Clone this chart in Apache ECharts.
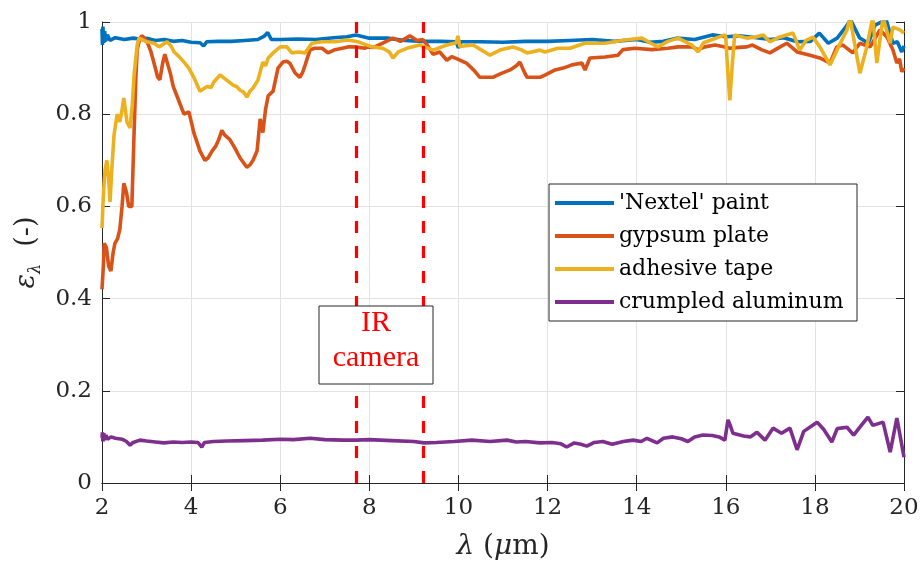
<!DOCTYPE html>
<html>
<head>
<meta charset="utf-8">
<script src="https://cdn.jsdelivr.net/npm/echarts@6/dist/echarts.min.js"></script>
<style>html,body{margin:0;padding:0;background:#fff;}#c{width:924px;height:569px;}</style>
</head>
<body>
<div id="c"></div>
<script>
var seriesNames = ["'Nextel' paint", "gypsum plate", "adhesive tape", "crumpled aluminum"];
var xTicks = [2, 4, 6, 8, 10, 12, 14, 16, 18, 20];
var yTicks = [0, 0.2, 0.4, 0.6, 0.8, 1];
var cameraBand = [7.7, 9.2];

var nextel = [[2.00,0.985],[2.01,0.95],[2.02,0.99],[2.04,0.955],[2.06,0.98],[2.08,0.958],[2.12,0.972],[2.18,0.96],[2.3,0.966],[2.5,0.962],[2.7,0.965],[2.9,0.962],[3.0,0.965],[3.2,0.96],[3.4,0.962],[3.6,0.958],[3.8,0.96],[4.0,0.956],[4.2,0.955],[4.28,0.948],[4.35,0.957],[4.6,0.958],[4.9,0.958],[5.2,0.96],[5.5,0.962],[5.65,0.97],[5.72,0.977],[5.8,0.962],[6.0,0.962],[6.4,0.963],[6.8,0.962],[7.2,0.966],[7.5,0.968],[7.7,0.972],[8.0,0.965],[8.4,0.965],[8.8,0.96],[9.2,0.958],[9.6,0.958],[9.95,0.957],[10.0,0.944],[10.05,0.957],[10.5,0.957],[11.0,0.956],[11.5,0.958],[12.0,0.958],[12.5,0.96],[13.0,0.962],[13.5,0.958],[14.0,0.962],[14.3,0.956],[14.6,0.958],[14.9,0.965],[15.3,0.962],[15.7,0.972],[16.0,0.968],[16.3,0.97],[16.6,0.967],[17.0,0.962],[17.3,0.966],[17.6,0.957],[17.9,0.958],[18.1,0.976],[18.3,0.954],[18.5,0.965],[18.7,0.99],[18.8,1.005],[19.0,0.966],[19.2,0.954],[19.35,0.993],[19.6,1.005],[19.75,0.954],[19.85,0.957],[19.95,0.935],[20.0,0.948]];

var gypsum = [[2.0,0.42],[2.03,0.47],[2.05,0.52],[2.1,0.51],[2.15,0.47],[2.2,0.46],[2.25,0.5],[2.29,0.52],[2.35,0.53],[2.4,0.55],[2.45,0.6],[2.49,0.65],[2.55,0.63],[2.6,0.6],[2.67,0.6],[2.72,0.76],[2.76,0.88],[2.79,0.94],[2.85,0.965],[2.9,0.97],[3.0,0.96],[3.1,0.935],[3.17,0.91],[3.25,0.88],[3.3,0.875],[3.36,0.91],[3.41,0.93],[3.47,0.91],[3.53,0.89],[3.6,0.86],[3.68,0.84],[3.76,0.82],[3.84,0.80],[3.95,0.805],[4.0,0.785],[4.06,0.76],[4.13,0.74],[4.2,0.72],[4.31,0.70],[4.38,0.705],[4.47,0.72],[4.55,0.73],[4.62,0.745],[4.69,0.765],[4.75,0.755],[4.87,0.745],[4.98,0.727],[5.1,0.705],[5.25,0.685],[5.32,0.69],[5.39,0.70],[5.48,0.72],[5.52,0.76],[5.55,0.79],[5.61,0.76],[5.67,0.81],[5.73,0.84],[5.84,0.85],[5.95,0.90],[6.06,0.913],[6.15,0.915],[6.22,0.91],[6.33,0.89],[6.44,0.88],[6.5,0.89],[6.56,0.907],[6.67,0.94],[6.78,0.943],[6.94,0.943],[7.07,0.933],[7.23,0.94],[7.39,0.943],[7.52,0.946],[7.68,0.946],[7.9,0.943],[7.95,0.946],[8.1,0.945],[8.3,0.954],[8.53,0.965],[8.7,0.958],[8.91,0.97],[9.07,0.96],[9.2,0.962],[9.3,0.95],[9.43,0.93],[9.58,0.935],[9.74,0.917],[9.85,0.925],[9.97,0.92],[10.19,0.91],[10.35,0.895],[10.48,0.88],[10.77,0.88],[10.95,0.888],[11.16,0.896],[11.3,0.905],[11.38,0.913],[11.46,0.895],[11.54,0.88],[11.83,0.88],[11.94,0.885],[12.17,0.896],[12.35,0.9],[12.55,0.907],[12.77,0.911],[12.84,0.896],[12.95,0.922],[13.29,0.924],[13.58,0.928],[13.69,0.94],[13.96,0.943],[14.34,0.94],[14.7,0.943],[14.93,0.946],[15.24,0.946],[15.38,0.94],[15.53,0.946],[15.76,0.95],[15.98,0.946],[16.09,0.943],[16.3,0.945],[16.47,0.946],[16.6,0.95],[16.8,0.94],[16.99,0.933],[17.2,0.945],[17.37,0.954],[17.6,0.935],[17.89,0.928],[18.11,0.922],[18.34,0.911],[18.49,0.946],[18.63,0.95],[18.85,0.933],[19.01,0.954],[19.24,0.946],[19.46,0.983],[19.62,0.967],[19.75,0.94],[19.84,0.911],[19.9,0.92],[19.95,0.892],[20.0,0.9]];

var tape = [[2.0,0.553],[2.02,0.6],[2.04,0.64],[2.07,0.68],[2.11,0.70],[2.15,0.66],[2.18,0.61],[2.22,0.68],[2.27,0.755],[2.34,0.80],[2.4,0.783],[2.45,0.81],[2.49,0.835],[2.56,0.783],[2.63,0.77],[2.68,0.82],[2.72,0.885],[2.79,0.95],[2.83,0.965],[2.9,0.962],[3.0,0.957],[3.17,0.954],[3.28,0.946],[3.46,0.957],[3.55,0.948],[3.62,0.935],[3.73,0.925],[3.84,0.913],[3.95,0.9],[4.06,0.88],[4.13,0.865],[4.2,0.85],[4.28,0.855],[4.36,0.86],[4.45,0.858],[4.51,0.87],[4.65,0.885],[4.8,0.874],[4.94,0.863],[5.02,0.86],[5.1,0.852],[5.18,0.848],[5.25,0.837],[5.32,0.85],[5.39,0.857],[5.5,0.874],[5.61,0.913],[5.67,0.905],[5.73,0.922],[5.84,0.933],[6.0,0.946],[6.15,0.946],[6.26,0.933],[6.4,0.935],[6.56,0.933],[6.71,0.954],[6.94,0.957],[7.23,0.957],[7.52,0.961],[7.75,0.957],[8.06,0.946],[8.3,0.943],[8.45,0.935],[8.53,0.922],[8.65,0.935],[8.84,0.943],[9.13,0.95],[9.43,0.939],[9.74,0.95],[9.95,0.955],[9.99,0.97],[10.03,0.947],[10.33,0.95],[10.5,0.94],[10.71,0.928],[10.93,0.939],[11.22,0.946],[11.4,0.94],[11.54,0.933],[11.83,0.939],[11.94,0.935],[12.23,0.943],[12.5,0.943],[12.84,0.954],[13.29,0.954],[13.74,0.961],[14.12,0.965],[14.3,0.955],[14.48,0.946],[14.7,0.958],[14.93,0.965],[15.24,0.95],[15.38,0.935],[15.5,0.955],[15.98,0.972],[16.0,0.967],[16.04,0.9],[16.09,0.83],[16.14,0.9],[16.2,0.972],[16.47,0.965],[16.65,0.967],[16.84,0.972],[16.99,0.957],[17.2,0.967],[17.51,0.976],[17.66,0.939],[17.8,0.96],[17.96,0.967],[18.11,0.946],[18.34,0.907],[18.5,0.94],[18.72,0.983],[18.79,1.01],[18.87,0.965],[19.01,0.889],[19.15,0.94],[19.3,1.01],[19.39,0.911],[19.53,1.01],[19.69,0.954],[19.75,0.989],[19.91,0.983],[20.0,0.976]];

var aluminum = [[2.0,0.098],[2.01,0.11],[2.02,0.09],[2.04,0.108],[2.06,0.093],[2.09,0.104],[2.12,0.095],[2.2,0.1],[2.3,0.097],[2.45,0.095],[2.55,0.09],[2.63,0.082],[2.7,0.088],[2.85,0.093],[3.0,0.091],[3.2,0.089],[3.39,0.087],[3.6,0.089],[3.8,0.088],[4.0,0.089],[4.15,0.088],[4.24,0.078],[4.3,0.088],[4.5,0.09],[4.8,0.091],[5.2,0.092],[5.6,0.093],[6.0,0.095],[6.3,0.094],[6.67,0.097],[7.0,0.094],[7.4,0.093],[7.7,0.093],[8.0,0.094],[8.5,0.092],[9.0,0.09],[9.23,0.087],[9.5,0.088],[9.9,0.09],[10.3,0.093],[10.71,0.09],[11.09,0.093],[11.3,0.089],[11.5,0.09],[11.83,0.087],[12.1,0.088],[12.3,0.085],[12.43,0.078],[12.6,0.087],[12.75,0.084],[12.88,0.08],[13.05,0.088],[13.24,0.09],[13.45,0.084],[13.7,0.09],[13.92,0.093],[14.1,0.09],[14.23,0.097],[14.46,0.087],[14.6,0.097],[14.81,0.1],[15.0,0.096],[15.15,0.09],[15.3,0.1],[15.49,0.104],[15.7,0.103],[15.85,0.1],[15.98,0.093],[16.05,0.137],[16.1,0.125],[16.16,0.108],[16.4,0.102],[16.55,0.1],[16.7,0.11],[16.88,0.093],[17.06,0.119],[17.25,0.108],[17.44,0.119],[17.6,0.072],[17.75,0.112],[18.05,0.132],[18.2,0.116],[18.38,0.089],[18.5,0.118],[18.72,0.121],[18.87,0.104],[19.01,0.121],[19.19,0.143],[19.3,0.125],[19.53,0.132],[19.69,0.067],[19.84,0.141],[20.0,0.056]];

var colors = ['#0072BD', '#D95319', '#EDB120', '#7E2F8E'];
var SERIF = 'DejaVu Serif';
var chart = echarts.init(document.getElementById('c'), null, {renderer: 'canvas'});

function mainX() {
  return {
    type: 'value', min: xTicks[0], max: xTicks[xTicks.length - 1], interval: 2,
    axisLine: {lineStyle: {color: '#262626', width: 1}},
    axisTick: {inside: true, length: 8, lineStyle: {color: '#262626'}},
    axisLabel: {fontFamily: SERIF, fontSize: 23, color: '#262626', margin: 14},
    splitLine: {show: true, lineStyle: {color: '#e3e3e3', width: 1}}
  };
}
function mainY() {
  return {
    type: 'value', min: yTicks[0], max: yTicks[yTicks.length - 1], interval: 0.2,
    axisLine: {show: true, lineStyle: {color: '#262626', width: 1}},
    axisTick: {show: true, inside: true, length: 8, lineStyle: {color: '#262626'}},
    axisLabel: {fontFamily: SERIF, fontSize: 23, color: '#262626', margin: 10},
    splitLine: {show: true, lineStyle: {color: '#e3e3e3', width: 1}}
  };
}
var x0 = mainX();
x0.name = '{l|λ} ({l|μ}m)';
x0.nameLocation = 'middle';
x0.nameGap = 50;
x0.nameTextStyle = {fontFamily: SERIF, fontSize: 28, color: '#262626', rich: {l: {fontFamily: SERIF, fontSize: 28, fontStyle: 'italic', color: '#262626'}}};
var x1 = mainX();
x1.position = 'top'; x1.axisLabel = {show: false}; x1.splitLine = {show: false};
var y0 = mainY();
y0.name = '{e|ε}{s|λ}  (-)';
y0.nameLocation = 'middle';
y0.nameGap = 58;
y0.nameTextStyle = {fontFamily: SERIF, fontSize: 27, color: '#262626', lineHeight: 34,
  rich: {e: {fontFamily: SERIF, fontSize: 27, fontStyle: 'italic', color: '#262626', lineHeight: 34},
         s: {fontFamily: SERIF, fontSize: 16, fontStyle: 'italic', color: '#262626', lineHeight: 34, verticalAlign: 'bottom'}}};
var y1 = mainY();
y1.position = 'right'; y1.axisLabel = {show: false}; y1.splitLine = {show: false};

var dataSets = [nextel, gypsum, tape, aluminum];
var series = dataSets.map(function (d, i) {
  return {
    name: seriesNames[i], type: 'line', data: d, xAxisIndex: 0, yAxisIndex: 0,
    symbol: 'none', smooth: false, clip: true,
    lineStyle: {color: colors[i], width: 3.6},
    itemStyle: {color: colors[i]}
  };
});
series[3].markLine = {
  silent: true, symbol: 'none', label: {show: false},
  lineStyle: {color: '#FF0000', width: 3.2, type: [12, 13]},
  data: cameraBand.map(function (v) { return {xAxis: v}; })
};

chart.setOption({
  animation: false,
  backgroundColor: '#ffffff',
  grid: {left: 102, right: 20, top: 22, bottom: 86, containLabel: false},
  xAxis: [x0, x1],
  yAxis: [y0, y1],
  legend: {
    orient: 'vertical', left: 555, top: 189, padding: 0, itemGap: 5,
    icon: 'rect', itemWidth: 59, itemHeight: 4,
    textStyle: {fontFamily: SERIF, fontSize: 22, color: '#000', lineHeight: 28},
    data: seriesNames, z: 10
  },
  graphic: [
    {type: 'rect', z: 5, shape: {x: 549, y: 184, width: 308, height: 137},
     style: {fill: '#fff', stroke: '#262626', lineWidth: 1}},
    {type: 'rect', z: 20, shape: {x: 319, y: 306, width: 114, height: 78},
     style: {fill: '#fff', stroke: '#262626', lineWidth: 1}},
    {type: 'text', z: 21, x: 376, y: 323,
     style: {text: 'IR', fill: '#FF0000', font: '30px "Liberation Serif"', textAlign: 'center', textVerticalAlign: 'middle'}},
    {type: 'text', z: 21, x: 376, y: 358,
     style: {text: 'camera', fill: '#FF0000', font: '30px "Liberation Serif"', textAlign: 'center', textVerticalAlign: 'middle'}}
  ],
  series: series
});
</script>
</body>
</html>
